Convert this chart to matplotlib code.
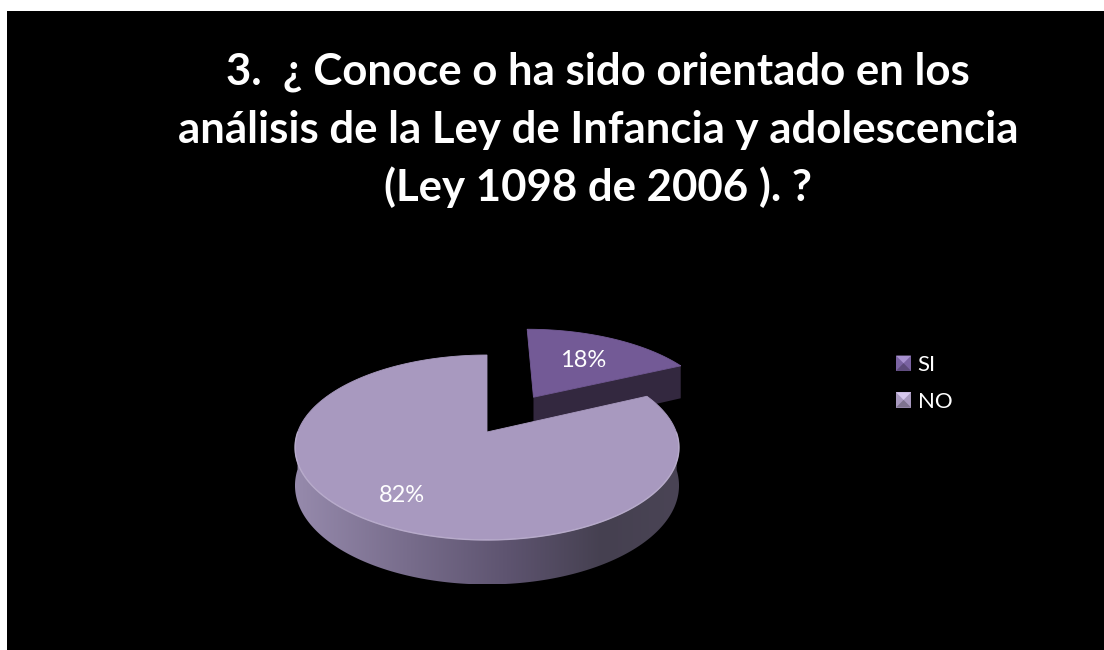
import numpy as np
import matplotlib
matplotlib.use('Agg')
import matplotlib.pyplot as plt
from matplotlib.patches import Polygon, Rectangle, Patch
from matplotlib.colors import LinearSegmentedColormap
from matplotlib.legend_handler import HandlerBase

plt.rcParams['font.family'] = ['Lato', 'DejaVu Sans']

# survey answers
labels = ['SI', 'NO']
values = [18, 82]
pct_labels = ['18%', '82%']
explode = [0.49, 0.0]

title_lines = [
    '3.  ¿ Conoce o ha sido orientado en los',
    'análisis de la Ley de Infancia y adolescencia',
    '(Ley 1098 de 2006 ). ?',
]

top_colors = ['#735A96', '#A899BF']
side_colors = ['#33283F', '#4A4258']
legend_colors = ['#7A63A2', '#A899BF']
label_radius = [0.6, 0.75]

# perspective projection of the tilted disc (pixel space, y down)
CX, CY = 487.0, 432.0
SX, SY, SZ = 189.3, 89.9, 37.0
K = 0.1676


def project(X, Y, Z=0.0):
    w = 1.0 + K * np.asarray(Y)
    return CX + SX * np.asarray(X) / w, CY - (SY * np.asarray(Y) + SZ * Z) / w


class BevelHandler(HandlerBase):
    def create_artists(self, legend, orig, xd, yd, width, height, fontsize, trans):
        c = np.array(matplotlib.colors.to_rgb(orig.get_facecolor()))
        light = np.clip(c + 0.18, 0, 1)
        dark = c * 0.75
        x0, y0 = -xd, -yd
        sq = Rectangle((x0, y0), width, height, facecolor=c, edgecolor='none', transform=trans)
        top = Polygon([(x0, y0 + height), (x0 + width, y0 + height), (x0 + width / 2, y0 + height / 2)],
                      closed=True, facecolor=light, edgecolor='none', transform=trans)
        bot = Polygon([(x0, y0), (x0 + width, y0), (x0 + width / 2, y0 + height / 2)],
                      closed=True, facecolor=dark, edgecolor='none', transform=trans)
        return [sq, top, bot]


fig = plt.figure(figsize=(11.04, 6.5), dpi=100)
fig.patch.set_facecolor('white')
ax = fig.add_axes([7 / 1104, 0, 1097 / 1104, 639 / 650])
ax.set_facecolor('black')
ax.set_xlim(7, 1104)
ax.set_ylim(650, 11)
ax.set_axis_off()
ax.add_patch(Rectangle((7, 11), 1097, 639, facecolor='black', edgecolor='none', zorder=0))

wall_cmap = LinearSegmentedColormap.from_list(
    'wall', [(0.0, '#968AAC'), (0.3, '#776C8B'), (0.55, '#5E5470'), (0.8, '#454050'), (1.0, '#4A4455')])

# slice angles, starting at 12 o'clock and running clockwise
total = float(sum(values))
starts, ends = [], []
a = 90.0
for v in values:
    starts.append(a)
    a -= 360.0 * v / total
    ends.append(a)

order = sorted(range(len(values)),
               key=lambda i: -explode[i] * np.sin(np.radians((starts[i] + ends[i]) / 2)))

for i in order:
    t0, t1 = np.radians(starts[i]), np.radians(ends[i])
    mid = (t0 + t1) / 2
    ox, oy = explode[i] * np.cos(mid), explode[i] * np.sin(mid)
    t = np.linspace(t0, t1, 400)
    ax_, ay_ = ox + np.cos(t), oy + np.sin(t)

    # radial face along the closing edge (faces the viewer for the back slice)
    if np.sin(t1) > 0 and explode[i] > 0:
        ex, ey = ox + np.cos(t1), oy + np.sin(t1)
        p = [project(ox, oy, 0), project(ex, ey, 0), project(ex, ey, -1), project(ox, oy, -1)]
        ax.add_patch(Polygon(p, closed=True, facecolor=side_colors[i], edgecolor='none', zorder=2))

    # outer wall where the rim faces the front
    front = np.sin(t) <= 0
    if front.any():
        idx = np.where(front)[0]
        splits = np.split(idx, np.where(np.diff(idx) != 1)[0] + 1)
        for seg in splits:
            tx, ty = project(ax_[seg], ay_[seg], 0)
            bx, by = project(ax_[seg], ay_[seg], -1)
            pts = np.column_stack([np.r_[tx, bx[::-1]], np.r_[ty, by[::-1]]])
            wall = Polygon(pts, closed=True, facecolor='none', edgecolor='none', zorder=2)
            ax.add_patch(wall)
            xmin, xmax = pts[:, 0].min(), pts[:, 0].max()
            ymin, ymax = pts[:, 1].min(), pts[:, 1].max()
            grad = np.linspace(0, 1, 256).reshape(1, -1)
            im = ax.imshow(grad, cmap=wall_cmap, aspect='auto', extent=(xmin, xmax, ymax, ymin),
                           zorder=2, interpolation='bilinear')
            im.set_clip_path(wall)
            ax.plot(tx, ty, color='#C9BEDA', lw=1.0, alpha=0.6, zorder=3.5)

    # top face
    px, py = project(np.r_[ox, ax_], np.r_[oy, ay_], 0)
    ax.add_patch(Polygon(np.column_stack([px, py]), closed=True, facecolor=top_colors[i],
                         edgecolor=top_colors[i], lw=0.6, zorder=3))

    lx, ly = project(ox + label_radius[i] * np.cos(mid), oy + label_radius[i] * np.sin(mid), 0)
    ax.text(lx, ly, pct_labels[i], color='white', fontsize=17, ha='center', va='center', zorder=5)

for line, yb in zip(title_lines, [85, 143, 201]):
    ax.text(598, yb, line, color='white', fontsize=31.5, fontweight='bold',
            ha='center', va='baseline')

handles = [Patch(facecolor=c, label=l) for c, l in zip(legend_colors, labels)]
leg = ax.legend(handles=handles, loc='upper left', bbox_to_anchor=(896, 355),
                bbox_transform=ax.transData, frameon=False, fontsize=16,
                labelcolor='white', handlelength=0.68, handleheight=0.68,
                handletextpad=0.3, labelspacing=0.75, borderpad=0, borderaxespad=0,
                handler_map={Patch: BevelHandler()})

fig.savefig('out.png', dpi=100, facecolor=fig.get_facecolor())
